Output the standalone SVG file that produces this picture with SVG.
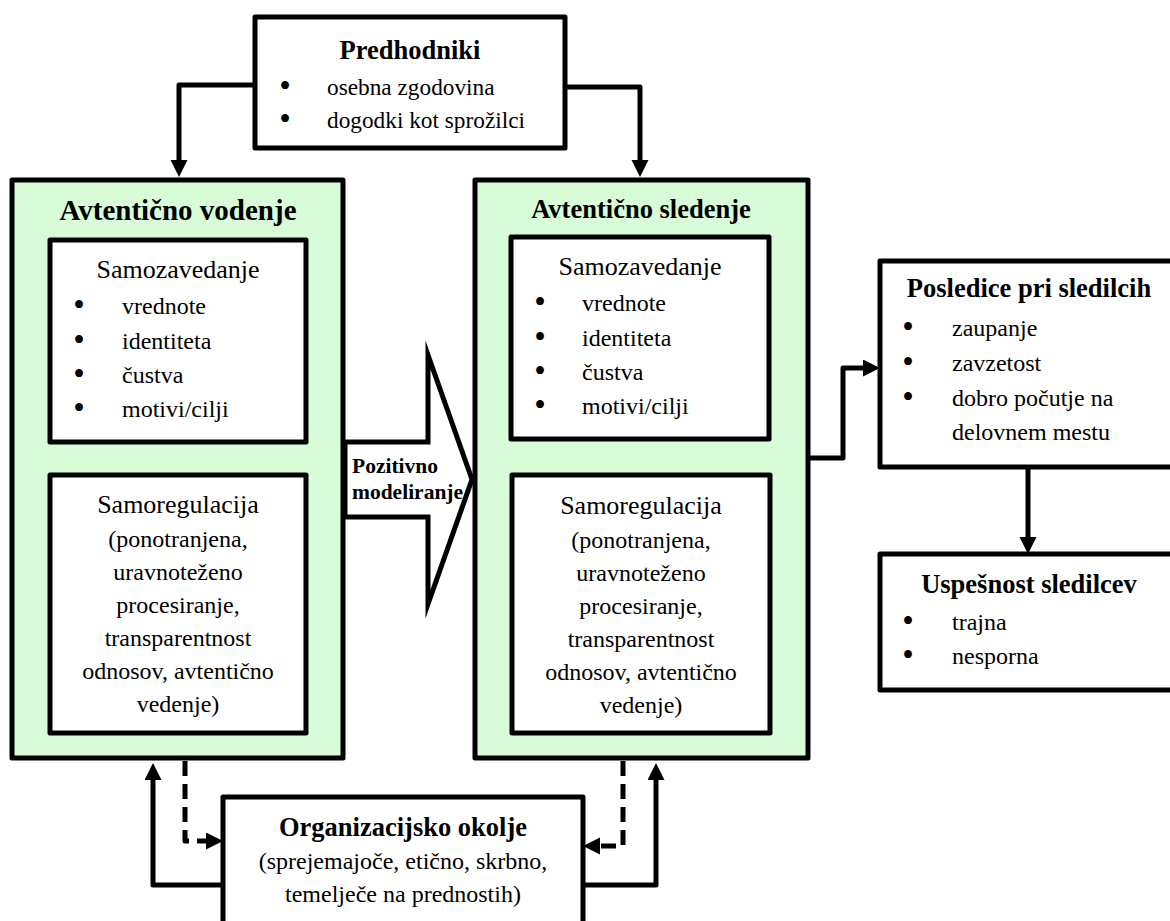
<svg xmlns="http://www.w3.org/2000/svg" width="1170" height="921" viewBox="0 0 1170 921">
<style>
.box{fill:#ffffff;stroke:#000;stroke-width:5;stroke-linejoin:round}
.green{fill:#d7fcd7;stroke:#000;stroke-width:5;stroke-linejoin:round}
text{font-family:"Liberation Serif","Times New Roman",serif;fill:#000}
.t{font-size:24px}
.bl{font-size:33px;text-anchor:middle}
.h{font-size:26px}
.b{font-size:26.5px;font-weight:bold}
.c{text-anchor:middle}
.ln{fill:none;stroke:#000;stroke-width:5;stroke-linejoin:round}
.dash{stroke-dasharray:15 8}
</style>
<defs>
<marker id="ah" markerUnits="userSpaceOnUse" viewBox="0 0 18 18" markerWidth="18" markerHeight="18" refX="11" refY="8.5" orient="auto">
<path d="M0,0 L17,8.5 L0,17 z" fill="#000"/>
</marker>
</defs>

<g id="avtenticno-vodenje">
<rect class="green" x="12" y="180" width="331" height="578"/>
<text class="b c" x="178" y="220" style="font-size:29px">Avtentično vodenje</text>
</g>
<g id="samozavedanje-l">
<rect class="box" x="50" y="240" width="256" height="202"/>
<text class="h c" x="178" y="278">Samozavedanje</text>
<text class="bl" x="79" y="316">•</text><text class="t" x="122" y="314">vrednote</text>
<text class="bl" x="79" y="351">•</text><text class="t" x="122" y="349">identiteta</text>
<text class="bl" x="79" y="385">•</text><text class="t" x="122" y="383">čustva</text>
<text class="bl" x="79" y="419">•</text><text class="t" x="122" y="417">motivi/cilji</text>
</g>
<g id="samoregulacija-l">
<rect class="box" x="50" y="475" width="256" height="258"/>
<text class="h c" x="178" y="513">Samoregulacija</text>
<text class="t c" x="178" y="547">(ponotranjena,</text>
<text class="t c" x="178" y="580">uravnoteženo</text>
<text class="t c" x="178" y="613">procesiranje,</text>
<text class="t c" x="178" y="646">transparentnost</text>
<text class="t c" x="178" y="679">odnosov, avtentično</text>
<text class="t c" x="178" y="712">vedenje)</text>
</g>

<g id="avtenticno-sledenje">
<rect class="green" x="475" y="180" width="333" height="578"/>
<text class="b c" x="641" y="218">Avtentično sledenje</text>
</g>
<g id="samozavedanje-r">
<rect class="box" x="511" y="237" width="258" height="202"/>
<text class="h c" x="640" y="275">Samozavedanje</text>
<text class="bl" x="540" y="313">•</text><text class="t" x="582" y="311">vrednote</text>
<text class="bl" x="540" y="348">•</text><text class="t" x="582" y="346">identiteta</text>
<text class="bl" x="540" y="382">•</text><text class="t" x="582" y="380">čustva</text>
<text class="bl" x="540" y="416">•</text><text class="t" x="582" y="414">motivi/cilji</text>
</g>
<g id="samoregulacija-r">
<rect class="box" x="512" y="475" width="258" height="258"/>
<text class="h c" x="641" y="514">Samoregulacija</text>
<text class="t c" x="641" y="548">(ponotranjena,</text>
<text class="t c" x="641" y="581">uravnoteženo</text>
<text class="t c" x="641" y="614">procesiranje,</text>
<text class="t c" x="641" y="647">transparentnost</text>
<text class="t c" x="641" y="680">odnosov, avtentično</text>
<text class="t c" x="641" y="713">vedenje)</text>
</g>

<g id="predhodniki">
<rect class="box" x="255" y="17" width="310" height="131"/>
<text class="b c" x="410" y="59">Predhodniki</text>
<text class="bl" x="285" y="97">•</text><text class="t" x="327" y="95" style="font-size:23.3px">osebna zgodovina</text>
<text class="bl" x="285" y="130">•</text><text class="t" x="327" y="128" style="font-size:23.3px">dogodki kot sprožilci</text>
</g>

<g id="posledice">
<rect class="box" x="880" y="261" width="300" height="206"/>
<text class="b c" x="1029" y="297">Posledice pri sledilcih</text>
<text class="bl" x="908" y="338">•</text><text class="t" x="952" y="336">zaupanje</text>
<text class="bl" x="908" y="373">•</text><text class="t" x="952" y="371">zavzetost</text>
<text class="bl" x="908" y="408">•</text><text class="t" x="952" y="406">dobro počutje na</text>
<text class="t" x="952" y="440">delovnem mestu</text>
</g>

<g id="uspesnost">
<rect class="box" x="880" y="554" width="300" height="136"/>
<text class="b c" x="1029" y="593">Uspešnost sledilcev</text>
<text class="bl" x="908" y="632">•</text><text class="t" x="952" y="630">trajna</text>
<text class="bl" x="908" y="666">•</text><text class="t" x="952" y="664">nesporna</text>
</g>

<g id="organizacijsko-okolje">
<rect class="box" x="223" y="797" width="360" height="140"/>
<text class="b c" x="403" y="836">Organizacijsko okolje</text>
<text class="t c" x="403" y="869">(sprejemajoče, etično, skrbno,</text>
<text class="t c" x="403" y="902">temelječe na prednostih)</text>
</g>

<g id="pozitivno-modeliranje">
<polygon points="345,442 428,442 428,355 472,479.5 428,604 428,517 345,517" fill="#fff" stroke="#000" stroke-width="5" stroke-linejoin="miter" stroke-miterlimit="10"/>
<text x="352" y="473" style="font-size:21.5px;font-weight:bold">Pozitivno</text>
<text x="352" y="499" style="font-size:21.5px;font-weight:bold">modeliranje</text>
</g>

<g id="connectors">
<path class="ln" d="M255,85 H179 V171" marker-end="url(#ah)"/>
<path class="ln" d="M565,87 H640 V171" marker-end="url(#ah)"/>
<path class="ln" d="M808,458 H843 V368 H874" marker-end="url(#ah)"/>
<path class="ln" d="M1028,467 V548" marker-end="url(#ah)"/>
<path class="ln" d="M223,885 H153 V769" marker-end="url(#ah)"/>
<path class="ln" d="M583,885 H656 V769" marker-end="url(#ah)"/>
<path class="ln dash" d="M185,761 V841 H217" marker-end="url(#ah)"/>
<path class="ln dash" d="M623,761 V846 H589" marker-end="url(#ah)"/>
</g>
</svg>
